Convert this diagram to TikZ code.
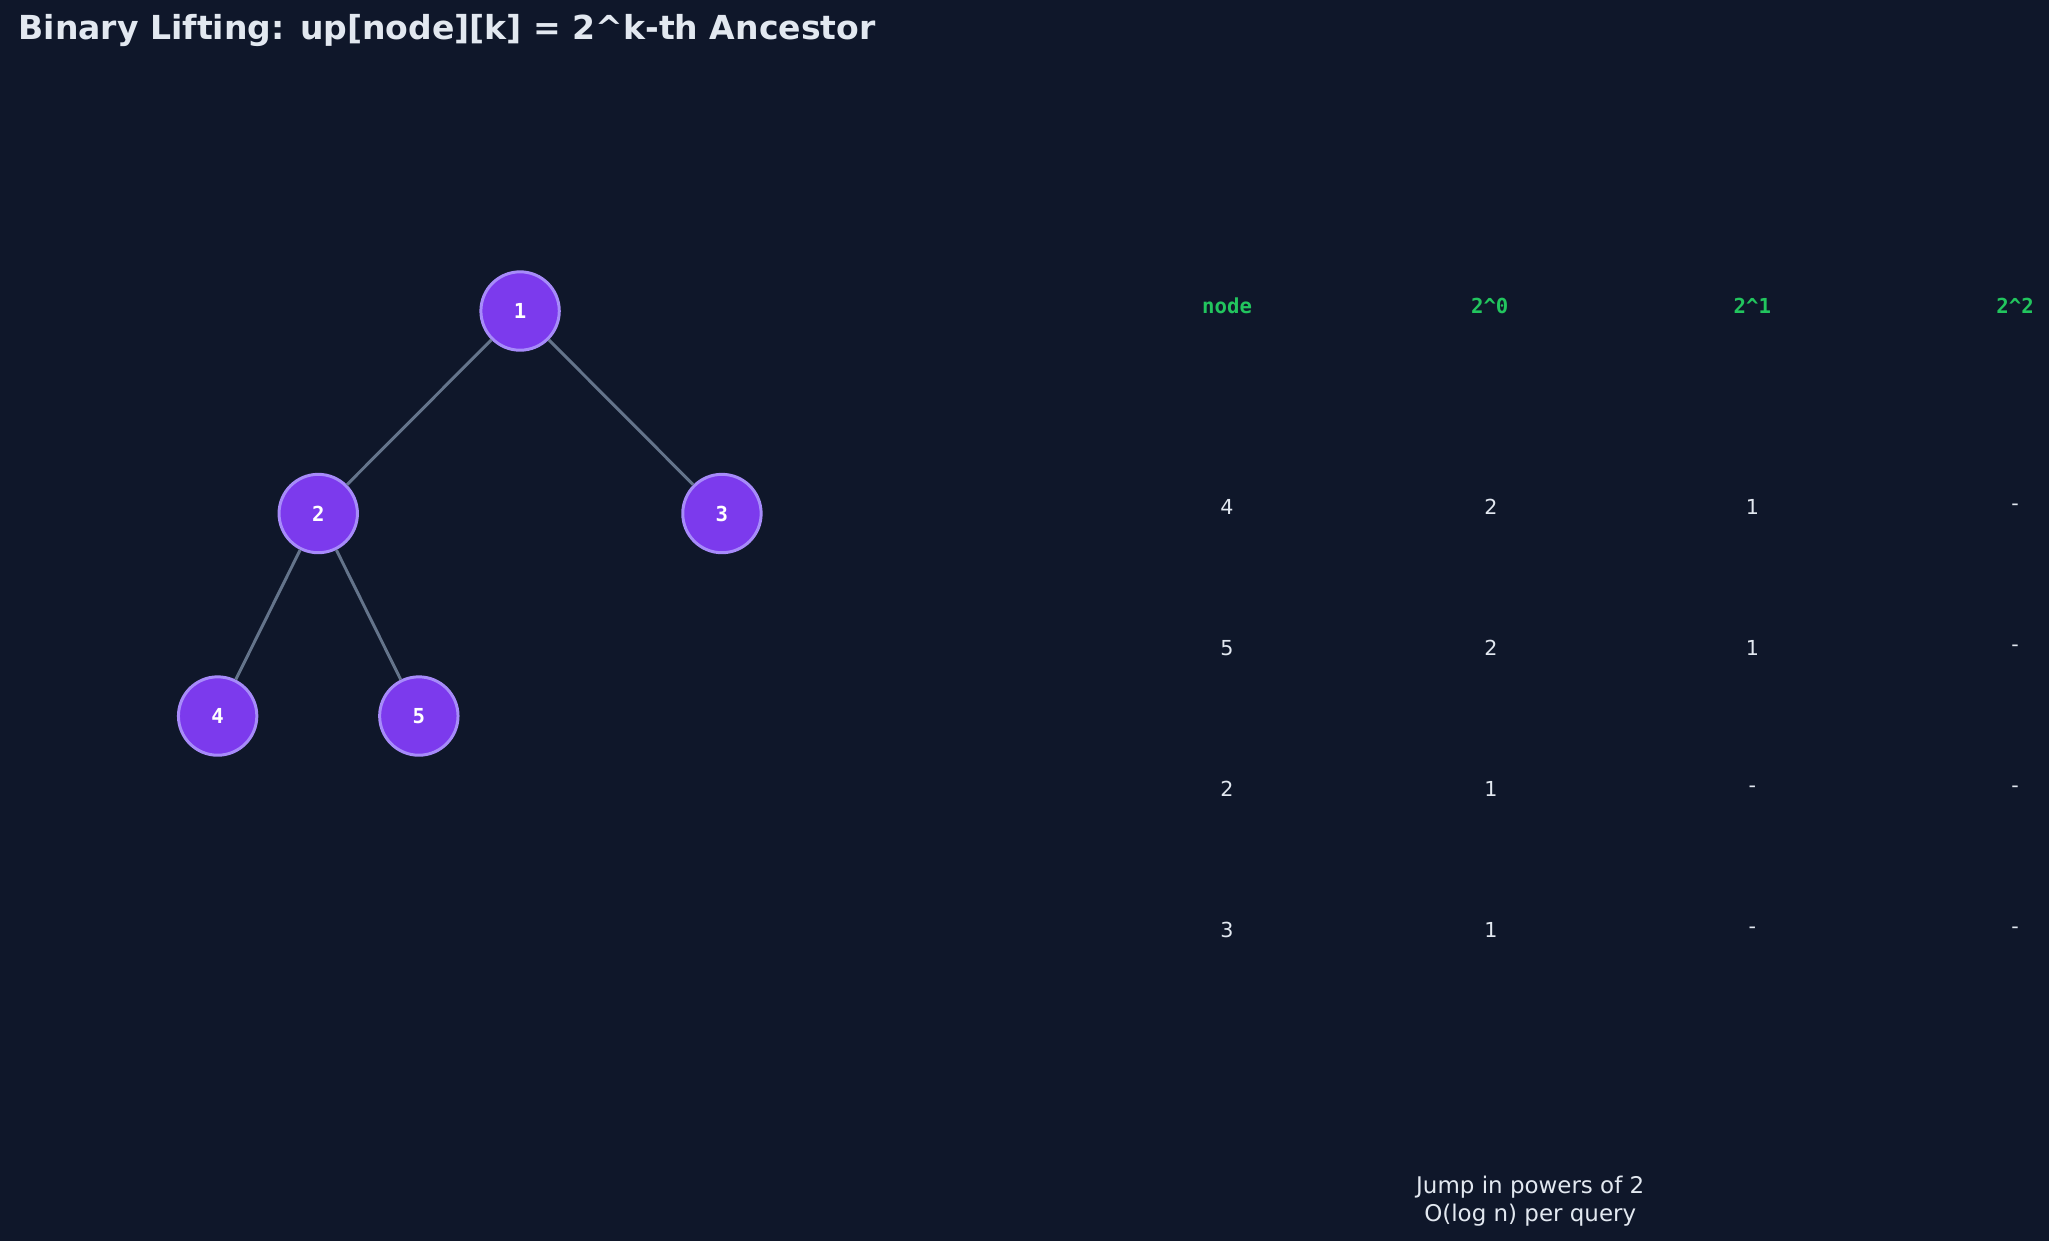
\documentclass[tikz,border=0pt]{standalone}
\usepackage{fontspec}
\setmainfont{DejaVu Sans}
\setmonofont{DejaVu Sans Mono}
\definecolor{bgc}{HTML}{0F172A}
\definecolor{nodefill}{HTML}{7C3AED}
\definecolor{nodeline}{HTML}{A78BFA}
\definecolor{edgec}{HTML}{64748B}
\definecolor{txt}{HTML}{E2E8F0}
\definecolor{hdr}{HTML}{22C55E}
\tikzstyle{vert} = [circle, minimum size=1.2cm, fill=nodefill, draw=nodeline, line width=1.3pt, text=white, font=\ttfamily\bfseries\small, inner sep=0pt]
\tikzstyle{head} = [text=hdr, font=\ttfamily\bfseries\small]
\tikzstyle{cell} = [text=txt, font=\small]
\begin{document}
\begin{tikzpicture}[x=0.02cm, y=-0.02cm]
\fill[bgc] (0,0) rectangle (1568,950);
\useasboundingbox (0,0) rectangle (1568,950);
\node[anchor=west, text=txt, font=\bfseries\Large] (title) at (8,23) {Binary Lifting: up[node][k] = 2\textasciicircum k-th Ancestor};
\begin{scope}[edge from parent/.style={draw=edgec, line width=1.3pt}, level distance=3.1cm, level 1/.style={sibling distance=6.18cm}, level 2/.style={sibling distance=3.08cm}]
\node[vert] (n1) at (398,238) {1}
    child {
        node[vert] (n2) {2}
            child { node[vert] (n4) {4} }
            child { node[vert] (n5) {5} }
    }
    child {
        node[vert] (n3) {3}
    };
\end{scope}
% table
\foreach \lbl [count=\i from 0] in {node, 2\textasciicircum 0, 2\textasciicircum 1, 2\textasciicircum 2}
    \node[head] (h\i) at (939+201*\i,234) {\lbl};
\foreach \a/\b/\c/\d [count=\r] in {4/2/1/-, 5/2/1/-, 2/1/-/-, 3/1/-/-} {
    \node[cell] (r\r a) at (939,388+108*\r-108) {\a};
    \node[cell] (r\r b) at (1141,388+108*\r-108) {\b};
    \node[cell] (r\r c) at (1341,388+108*\r-108) {\c};
    \node[cell] (r\r d) at (1542,388+108*\r-108) {\d};
}
\node[cell, align=center, font=\normalsize] (note) at (1171,919) {Jump in powers of 2\\O(log n) per query};
\end{tikzpicture}
\end{document}
